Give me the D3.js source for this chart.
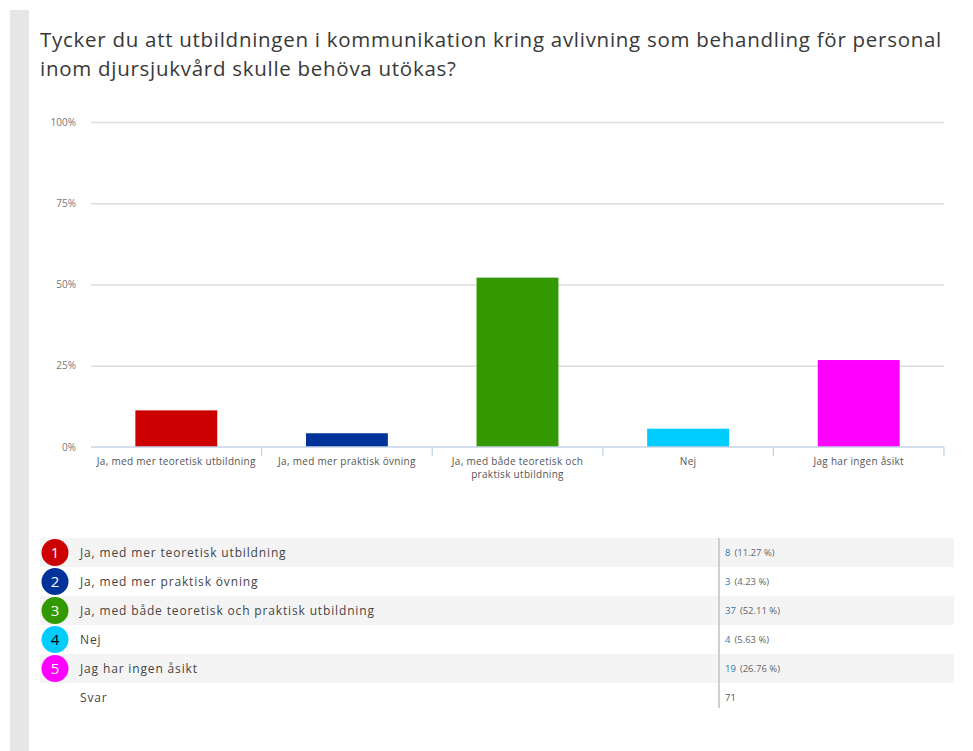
<!DOCTYPE html>
<html>
<head>
<meta charset="utf-8">
<script src="https://cdn.jsdelivr.net/npm/d3@7"></script>
<style>
  body { margin: 0; background: #fff; }
  svg { display: block; }
</style>
</head>
<body>
<div id="chart"></div>
<script>
// survey answers
const categories = [
  'Ja, med mer teoretisk utbildning',
  'Ja, med mer praktisk övning',
  'Ja, med både teoretisk och praktisk utbildning',
  'Nej',
  'Jag har ingen åsikt'
];
// axis labels (third one wraps in the original)
const axisLabels = [
  ['Ja, med mer teoretisk utbildning'],
  ['Ja, med mer praktisk övning'],
  ['Ja, med både teoretisk och', 'praktisk utbildning'],
  ['Nej'],
  ['Jag har ingen åsikt']
];
const counts = [8, 3, 37, 4, 19];
const percents = [11.27, 4.23, 52.11, 5.63, 26.76];
const totalAnswers = 71;
const colors = ['#cc0000', '#003399', '#339900', '#00ccff', '#ff00ff'];
const yTicks = [0, 25, 50, 75, 100];

const W = 973, H = 751;
const FONT = '"Open Sans", sans-serif';

const svg = d3.select('#chart').append('svg')
  .attr('width', W)
  .attr('height', H);

// grey strip on the left
svg.append('rect')
  .attr('x', 10).attr('y', 10)
  .attr('width', 19).attr('height', H - 10)
  .attr('fill', '#e6e6e6');

// title, stretched a bit so the first line ends where the original does
const title = svg.append('text')
  .attr('font-family', FONT)
  .attr('font-size', 20.5)
  .attr('fill', '#383838');
const t1 = title.append('tspan').attr('x', 40).attr('y', 47)
  .text('Tycker du att utbildningen i kommunikation kring avlivning som behandling för personal');
title.append('tspan').attr('x', 40).attr('y', 76)
  .text('inom djursjukvård skulle behöva utökas?');
const len = t1.node().getComputedTextLength();
const nChars = t1.text().length;
title.attr('letter-spacing', Math.max(-1, (902 - len) / nChars));

/*
  bar chart
*/
const plot = { left: 91, right: 944, top: 122, bottom: 447 };

const x = d3.scaleBand()
  .domain(categories)
  .range([plot.left, plot.right])
  .paddingInner(0.52)
  .paddingOuter(0.26);

const xSep = d3.scaleBand()
  .domain(categories)
  .range([plot.left, plot.right]);

const y = d3.scaleLinear()
  .domain([0, 100])
  .range([plot.bottom, plot.top]);

// gridlines + tick labels
const yAxis = svg.append('g')
  .attr('transform', 'translate(' + plot.left + ',0)')
  .call(d3.axisLeft(y)
    .tickValues(yTicks)
    .tickSize(-(plot.right - plot.left))
    .tickPadding(15)
    .tickFormat(d => d + '%'));
yAxis.select('.domain').remove();
yAxis.selectAll('.tick line')
  .attr('stroke', d => d === 0 ? 'none' : '#dcdcdc')
  .attr('stroke-width', 1.3);
yAxis.selectAll('.tick text')
  .attr('font-family', FONT)
  .attr('font-size', 10)
  .attr('fill', '#777');

// bars
svg.selectAll('.bar')
  .data(categories)
  .enter().append('rect')
  .attr('class', 'bar')
  .attr('x', d => x(d))
  .attr('width', x.bandwidth())
  .attr('y', (d, i) => y(percents[i]))
  .attr('height', (d, i) => y(0) - y(percents[i]))
  .attr('fill', (d, i) => colors[i]);

// x axis line with separators between categories
const xAxis = svg.append('g')
  .attr('transform', 'translate(0,' + plot.bottom + ')');
xAxis.append('line')
  .attr('x1', plot.left).attr('x2', plot.right)
  .attr('stroke', '#c5d5e6').attr('stroke-width', 1.3);
xAxis.selectAll('.sep')
  .data(categories.slice(1).concat(['end']))
  .enter().append('line')
  .attr('class', 'sep')
  .attr('x1', (d, i) => i < 4 ? xSep(d) : plot.right)
  .attr('x2', (d, i) => i < 4 ? xSep(d) : plot.right)
  .attr('y1', 0).attr('y2', 9)
  .attr('stroke', '#c5d5e6').attr('stroke-width', 1.3);

const xl = xAxis.selectAll('.xlabel')
  .data(categories)
  .enter().append('text')
  .attr('class', 'xlabel')
  .attr('text-anchor', 'middle')
  .attr('font-family', FONT)
  .attr('font-size', 10)
  .attr('letter-spacing', 0.3)
  .attr('fill', '#555');
xl.each(function(d, i) {
  const t = d3.select(this);
  axisLabels[i].forEach((line, k) => {
    t.append('tspan')
      .attr('x', xSep(d) + xSep.bandwidth() / 2)
      .attr('y', 18 + k * 13)
      .text(line);
  });
});

/*
  table below
*/
const rowNames = categories.concat(['Svar']);
const rows = d3.scaleBand()
  .domain(rowNames)
  .range([538, 538 + 29 * rowNames.length]);

const table = svg.append('g');

table.selectAll('.rowbg')
  .data(rowNames)
  .enter().append('rect')
  .attr('class', 'rowbg')
  .attr('x', 40).attr('width', 954 - 40)
  .attr('y', d => rows(d))
  .attr('height', rows.bandwidth())
  .attr('fill', (d, i) => i % 2 === 0 && i < 5 ? '#f4f4f4' : '#fff');

// divider
table.append('line')
  .attr('x1', 719).attr('x2', 719)
  .attr('y1', rows(rowNames[0])).attr('y2', rows('Svar') + 25)
  .attr('stroke', '#cfcfcf').attr('stroke-width', 2);

const mid = d => rows(d) + rows.bandwidth() / 2;

table.selectAll('.badge')
  .data(categories)
  .enter().append('circle')
  .attr('class', 'badge')
  .attr('cx', 55)
  .attr('cy', d => mid(d))
  .attr('r', 13.5)
  .attr('fill', (d, i) => colors[i]);

table.selectAll('.badgeNum')
  .data(categories)
  .enter().append('text')
  .attr('class', 'badgeNum')
  .attr('x', 55)
  .attr('y', d => mid(d) + 5.5)
  .attr('text-anchor', 'middle')
  .attr('font-family', FONT)
  .attr('font-size', 15)
  .attr('fill', (d, i) => i === 3 ? '#000' : '#fff')
  .text((d, i) => i + 1);

table.selectAll('.rowLabel')
  .data(rowNames)
  .enter().append('text')
  .attr('class', 'rowLabel')
  .attr('x', 80)
  .attr('y', d => mid(d) + 4)
  .attr('font-family', FONT)
  .attr('font-size', 12)
  .attr('letter-spacing', 0.85)
  .attr('fill', '#444')
  .text(d => d);

const vals = table.selectAll('.val')
  .data(categories)
  .enter().append('text')
  .attr('class', 'val')
  .attr('x', 725)
  .attr('y', d => mid(d) + 3.5)
  .attr('font-family', FONT)
  .attr('font-size', 9.5);
vals.append('tspan')
  .attr('fill', '#2a78b0')
  .text((d, i) => counts[i]);
vals.append('tspan')
  .attr('dx', 4)
  .attr('fill', '#666')
  .text((d, i) => '(' + percents[i].toFixed(2) + ' %)');

table.append('text')
  .attr('x', 725)
  .attr('y', mid('Svar') + 3.5)
  .attr('font-family', FONT)
  .attr('font-size', 9.5)
  .attr('fill', '#555')
  .text(totalAnswers);
</script>
</body>
</html>
